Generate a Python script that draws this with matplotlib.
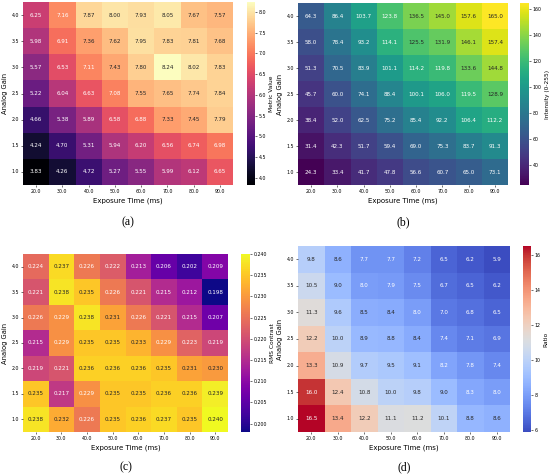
import matplotlib
matplotlib.use("Agg")
import matplotlib.pyplot as plt
import numpy as np
import seaborn as sns

exposure = ["20.0", "30.0", "40.0", "50.0", "60.0", "70.0", "80.0", "90.0"]
gain = ["4.0", "3.5", "3.0", "2.5", "2.0", "1.5", "1.0"]

metric = [
    [6.25, 7.16, 7.87, 8.00, 7.93, 8.05, 7.67, 7.57],
    [5.98, 6.91, 7.36, 7.62, 7.95, 7.83, 7.81, 7.68],
    [5.57, 6.53, 7.11, 7.43, 7.80, 8.24, 8.02, 7.83],
    [5.22, 6.04, 6.63, 7.08, 7.55, 7.65, 7.74, 7.84],
    [4.66, 5.38, 5.89, 6.58, 6.88, 7.33, 7.45, 7.79],
    [4.24, 4.70, 5.31, 5.94, 6.20, 6.56, 6.74, 6.98],
    [3.83, 4.26, 4.72, 5.27, 5.55, 5.99, 6.12, 6.65],
]

intensity = [
    [64.3, 86.4, 103.7, 123.8, 136.5, 145.0, 157.6, 165.0],
    [58.0, 78.4, 93.2, 114.1, 125.5, 131.9, 146.1, 157.4],
    [51.3, 70.5, 83.9, 101.1, 114.2, 119.8, 133.6, 144.8],
    [45.7, 60.0, 74.1, 88.4, 100.1, 106.0, 119.5, 128.9],
    [38.4, 52.0, 62.5, 75.2, 85.4, 92.2, 106.4, 112.2],
    [31.4, 42.3, 51.7, 59.4, 69.0, 75.3, 83.7, 91.3],
    [24.3, 33.4, 41.7, 47.8, 56.6, 60.7, 65.0, 73.1],
]

contrast = [
    [0.224, 0.237, 0.226, 0.222, 0.213, 0.206, 0.202, 0.209],
    [0.221, 0.238, 0.235, 0.226, 0.221, 0.215, 0.212, 0.198],
    [0.226, 0.229, 0.238, 0.231, 0.226, 0.221, 0.215, 0.207],
    [0.215, 0.229, 0.235, 0.235, 0.233, 0.229, 0.223, 0.219],
    [0.219, 0.221, 0.236, 0.236, 0.236, 0.235, 0.231, 0.230],
    [0.235, 0.217, 0.229, 0.235, 0.235, 0.236, 0.236, 0.239],
    [0.238, 0.232, 0.226, 0.235, 0.236, 0.237, 0.235, 0.240],
]

ratio = [
    [9.8, 8.6, 7.7, 7.7, 7.2, 6.5, 6.2, 5.9],
    [10.5, 9.0, 8.0, 7.9, 7.5, 6.7, 6.5, 6.2],
    [11.3, 9.6, 8.5, 8.4, 8.0, 7.0, 6.8, 6.5],
    [12.2, 10.0, 8.9, 8.8, 8.4, 7.4, 7.1, 6.9],
    [13.3, 10.9, 9.7, 9.5, 9.1, 8.2, 7.8, 7.4],
    [16.0, 12.4, 10.8, 10.0, 9.8, 9.0, 8.3, 8.0],
    [16.5, 13.4, 12.2, 11.1, 11.2, 10.1, 8.8, 8.6],
]

W, H = 550.0, 476.0


def box(l, r, t, b):
    # pixel box -> figure fraction
    return [l / W, 1 - b / H, (r - l) / W, (b - t) / H]


panels = [
    # data, cmap, fmt, cbar label, heatmap box, cbar box, caption, caption y
    (metric, "magma", ".2f", "Metric Value", (23, 233, 2, 185), (247, 255, 2, 185), "(a)", 222),
    (intensity, "viridis", ".1f", "Intensity (0-255)", (298, 508, 3, 185), (520, 529, 3, 185), "(b)", 222),
    (contrast, "plasma", ".3f", "RMS Contrast", (23, 228, 254, 432), (241, 250, 254, 432), "(c)", 467),
    (ratio, "coolwarm", ".1f", "Ratio", (298, 510, 246, 432), (523, 531, 246, 432), "(d)", 467),
]

fig = plt.figure(figsize=(5.5, 4.76), dpi=100)

for data, cmap, fmt, clabel, hb, cb, cap, capy in panels:
    ax = fig.add_axes(box(*hb))
    cax = fig.add_axes(box(*cb))
    sns.heatmap(np.array(data), ax=ax, cbar_ax=cax, cmap=cmap, annot=True, fmt=fmt,
                annot_kws={"size": 4.1}, xticklabels=exposure, yticklabels=gain)
    ax.tick_params(labelsize=3.4, length=1.5, width=0.4, pad=1.5)
    ax.set_yticklabels(gain, rotation=0)
    ax.set_xticklabels(exposure, rotation=0)
    ax.set_xlabel("Exposure Time (ms)", fontsize=5.0, labelpad=2.5)
    ax.set_ylabel("Analog Gain", fontsize=4.9, labelpad=2.5)
    cax.tick_params(labelsize=3.4, length=1.5, width=0.4, pad=1.2)
    cax.set_ylabel(clabel, fontsize=4.2, labelpad=2)
    if cmap == "coolwarm":
        cax.set_yticks([6, 8, 10, 12, 14, 16])
    xc = (hb[0] + hb[1]) / 2 / W
    fig.text(xc, 1 - capy / H, cap, ha="center", va="center",
             family="Liberation Serif", fontsize=8.5)

fig.savefig("out.png", dpi=100)
